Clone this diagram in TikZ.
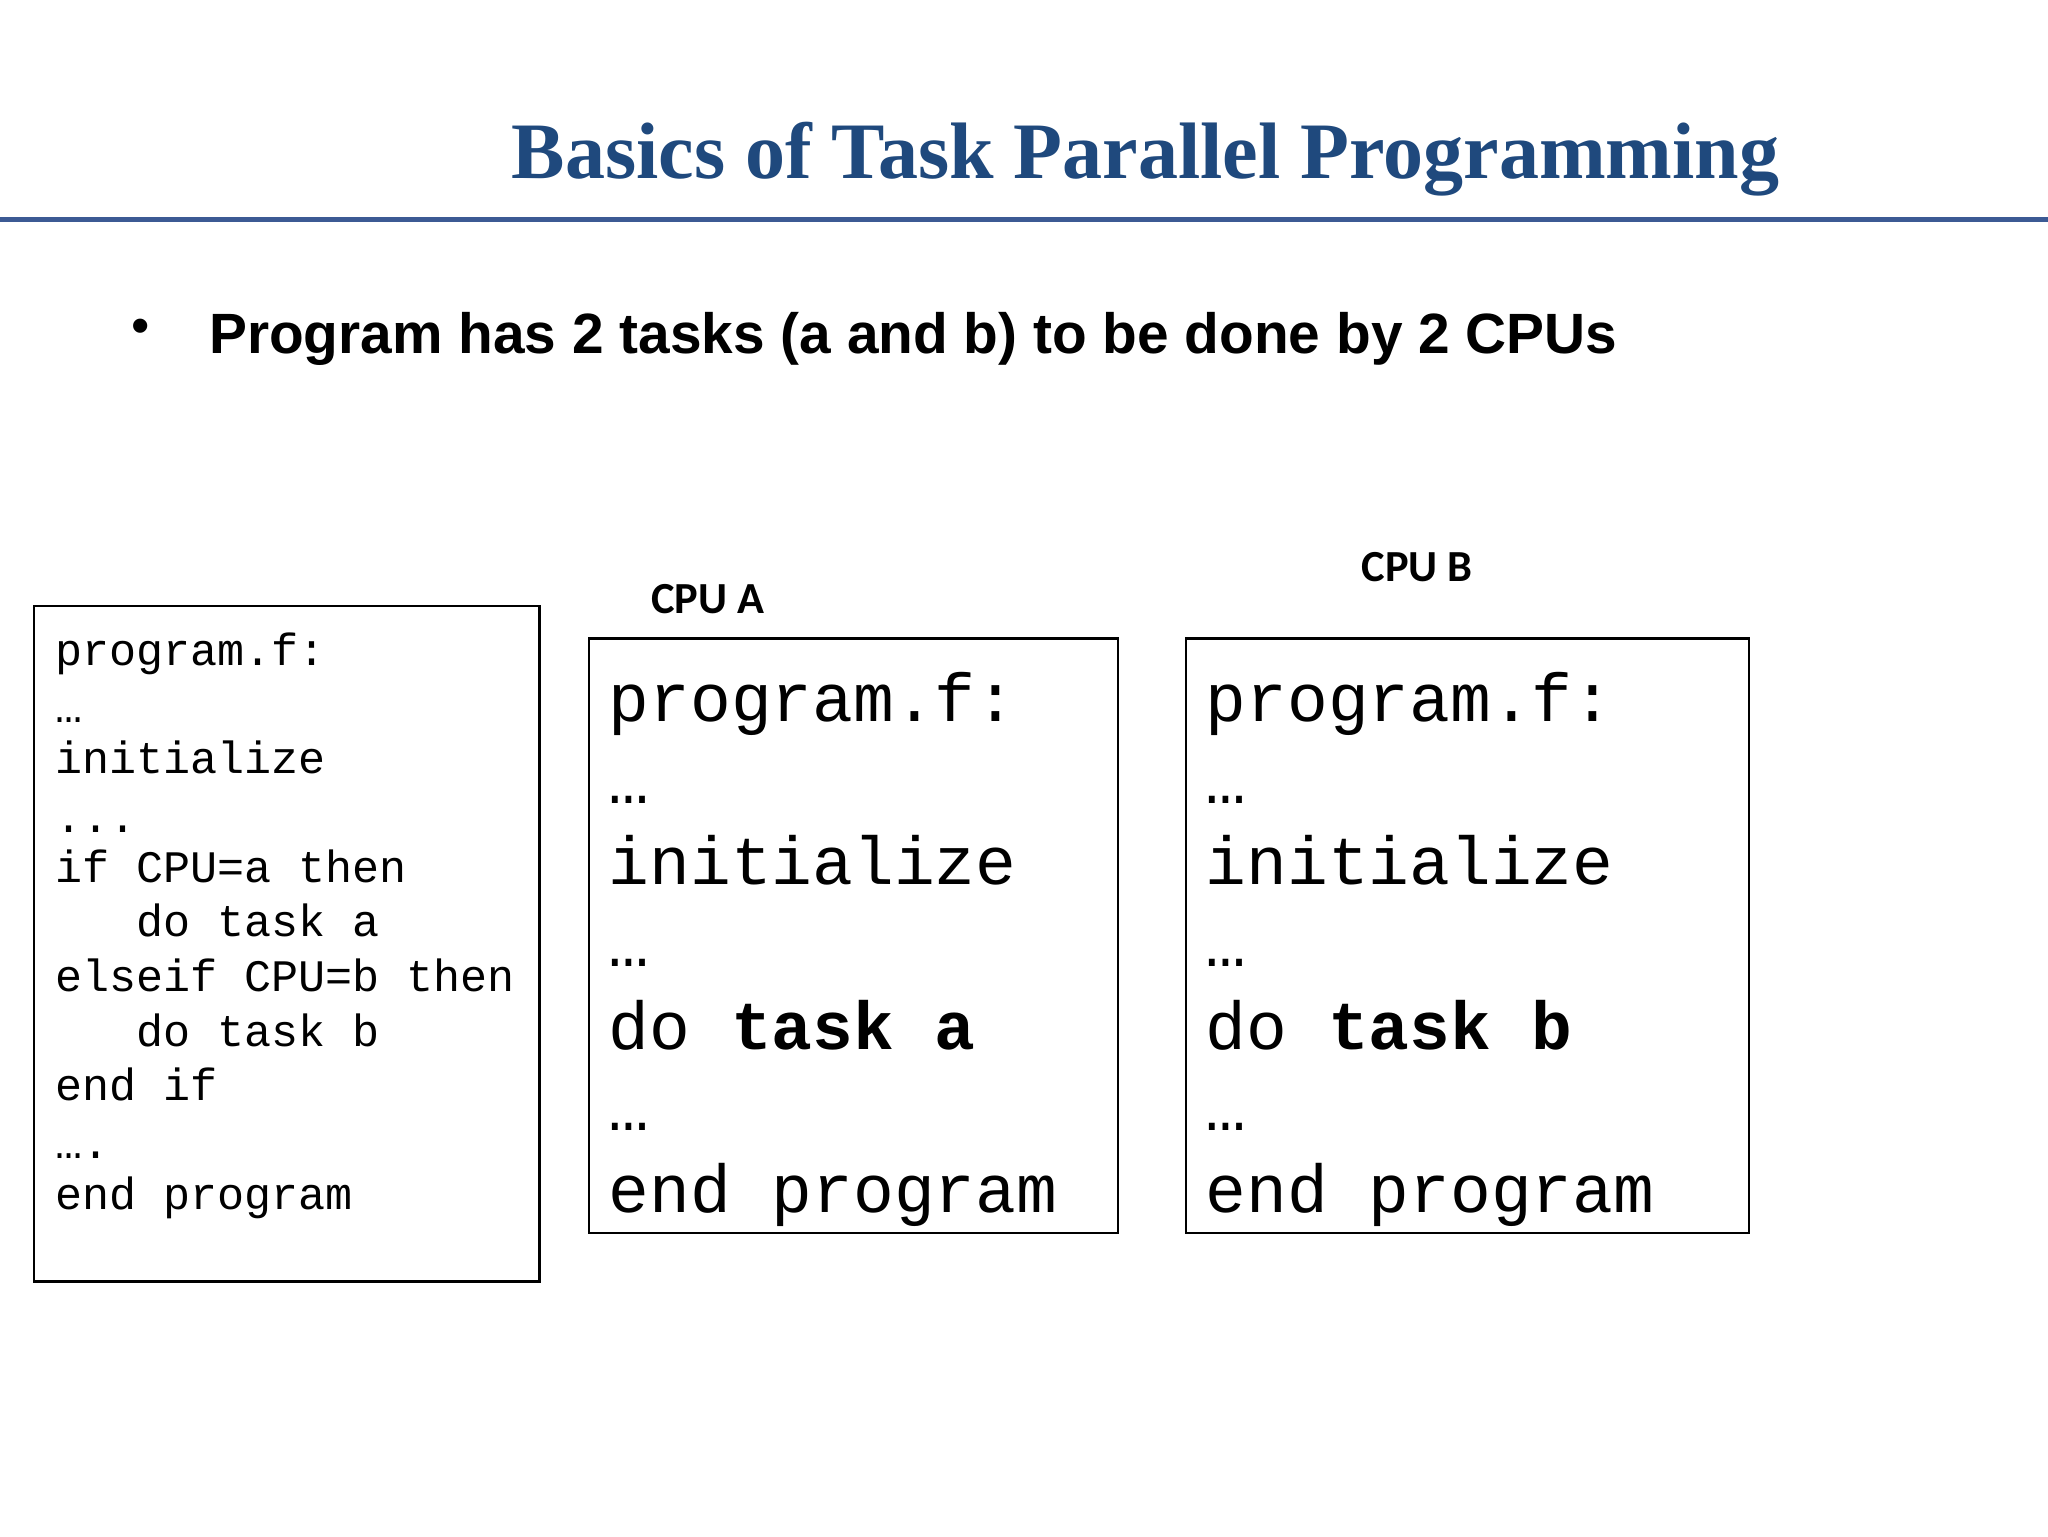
\documentclass[tikz,border=0pt]{standalone}
\usepackage{fontspec}
\setmainfont{Liberation Serif}
\newfontfamily\sansb{Liberation Sans}
\newfontfamily\monof{Liberation Mono}
\newfontfamily\carl{Carlito}
\definecolor{titleblue}{HTML}{1F497D}
\definecolor{rule}{HTML}{3C5A94}
\begin{document}
\begin{tikzpicture}[x=1pt,y=-1pt,
  box/.style={draw,line width=2pt},
  sm/.style={anchor=mid west,inner sep=0,font=\monof\fontsize{34.5}{36}\selectfont},
  bg/.style={anchor=mid west,inner sep=0,font=\monof\fontsize{52}{54}\selectfont},
  lab/.style={inner sep=0,font=\carl\bfseries\fontsize{34}{36}\selectfont}]
\useasboundingbox (0,0) rectangle (1568,1176);
\node[inner sep=0,text=titleblue,font=\bfseries\fontsize{61.3}{64}\selectfont] (title) at (877,122) {Basics of Task Parallel Programming};
\draw[rule,line width=4pt] (0,168) -- (1568,168);
\node[inner sep=0,font=\sansb\fontsize{40}{42}\selectfont] (bul) at (108,254) {•};
\node[anchor=mid west,inner sep=0,font=\sansb\bfseries\fontsize{43.5}{46}\selectfont] (bt) at (160,268) {Program has 2 tasks (a and b) to be done by 2 CPUs};
% left box
\draw[box] (26,464) rectangle (413,981);
\node[sm] (l1) at (42,507) {program.f:};
\node[sm] (l2) at (42,551) {…};
\node[sm] (l3) at (42,590) {initialize};
\node[sm] (l4) at (42,635) {...};
\node[sm] (l5) at (42,673) {if CPU=a then};
\node[sm] (l6) at (42,715) {\ \ \ do task a};
\node[sm] (l7) at (42,757) {elseif CPU=b then};
\node[sm] (l8) at (42,799) {\ \ \ do task b};
\node[sm] (l9) at (42,840) {end if};
\node[sm] (l10) at (42,885) {….};
\node[sm] (l11) at (42,924) {end program};
% CPU A
\node[lab] (cpua) at (542,459) {CPU A};
\draw[box] (451,489) rectangle (856,944);
\foreach \x/\n/\t in {466/a/a}{
\node[bg] (\n1) at (\x,550) {program.f:};
\node[bg] (\n2) at (\x,613) {…};
\node[bg] (\n3) at (\x,675) {initialize};
\node[bg] (\n4) at (\x,738) {…};
\node[bg] (\n5) at (\x,801) {do \textbf{task \t}};
\node[bg] (\n6) at (\x,863) {…};
\node[bg] (\n7) at (\x,926) {end program};
}
% CPU B
\node[lab] (cpub) at (1085,434) {CPU B};
\draw[box] (908,489) rectangle (1339,944);
\foreach \x/\n/\t in {923/b/b}{
\node[bg] (\n1) at (\x,550) {program.f:};
\node[bg] (\n2) at (\x,613) {…};
\node[bg] (\n3) at (\x,675) {initialize};
\node[bg] (\n4) at (\x,738) {…};
\node[bg] (\n5) at (\x,801) {do \textbf{task \t}};
\node[bg] (\n6) at (\x,863) {…};
\node[bg] (\n7) at (\x,926) {end program};
}
\end{tikzpicture}
\end{document}
